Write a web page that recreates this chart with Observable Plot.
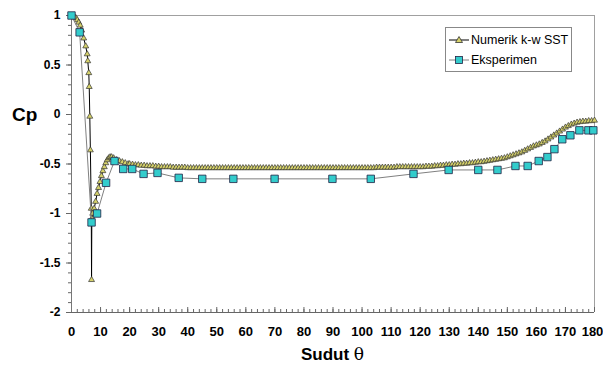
<!DOCTYPE html>
<html>
<head>
<meta charset="utf-8">
<script src="https://cdn.jsdelivr.net/npm/d3@7"></script>
<script src="https://cdn.jsdelivr.net/npm/@observablehq/plot@0.6"></script>
<style>
  html, body { margin: 0; padding: 0; background: #fff; }
  #wrap { position: relative; width: 603px; height: 369px; font-family: "Liberation Sans", Arial, sans-serif; }
  #cp { position: absolute; left: 12px; top: 104px; font-weight: bold; font-size: 19px; }
  #xlab { position: absolute; left: 0; width: 665px; text-align: center; top: 344px; font-weight: bold; font-size: 17px; }
  #legend { position: absolute; left: 445px; top: 27px; width: 125px; height: 43px; border: 1px solid #888; background: #fff; font-size: 12.5px; }
  .item { position: absolute; left: 3px; height: 18px; display: flex; align-items: center; white-space: nowrap; }
  .item svg { margin-right: 2px; }
</style>
</head>
<body>
<div id="wrap">
  <div id="chart"></div>
  <div id="cp">Cp</div>
  <div id="xlab">Sudut <span style="font-family:'DejaVu Serif',serif;font-weight:normal">θ</span></div>
  <div id="legend">
    <div class="item" style="top:3px"><svg width="20" height="10"><line x1="0" y1="5" x2="20" y2="5" stroke="#000" stroke-width="1"/><path d="M10,1.5 L13.5,7.5 L6.5,7.5 Z" fill="#d6d26a" stroke="#333" stroke-width="0.8"/></svg><span>Numerik k-w SST</span></div>
    <div class="item" style="top:23px"><svg width="20" height="10"><line x1="0" y1="5" x2="20" y2="5" stroke="#808080" stroke-width="1"/><rect x="6.5" y="1.5" width="7" height="7" fill="#33cccc" stroke="#224" stroke-width="0.8"/></svg><span>Eksperimen</span></div>
  </div>
</div>
<script>
// Experimental data (squares)
const expX = [0, 2.8, 6.9, 8.8, 11.9, 14.8, 17.8, 20.9, 24.8, 29.6, 36.9, 45, 55.7, 69.9, 89.8, 103, 117.7, 129.8, 140, 146.6, 152.8, 157, 160.8, 163.8, 166.2, 168.9, 171.7, 174.8, 177.9, 179.6];
const expY = [1, 0.83, -1.09, -1.0, -0.69, -0.47, -0.55, -0.55, -0.60, -0.59, -0.64, -0.65, -0.65, -0.65, -0.65, -0.65, -0.60, -0.56, -0.56, -0.56, -0.52, -0.52, -0.47, -0.43, -0.35, -0.25, -0.21, -0.16, -0.16, -0.16];

// Numerical k-w SST data (triangles)
const numX = [0, 0.5, 1, 1.5, 2, 2.5, 3, 3.5, 4.2, 4.9, 5.4, 5.6, 5.95, 6.1, 6.3, 6.5, 6.8, 6.9, 7.0, 7.3, 7.8, 8.3, 8.8, 9.3, 9.8, 10.3, 10.8, 11.3, 11.8, 12.3, 12.8, 13.3, 13.8, 14.5, 15.5, 16.5, 17.5, 18.5, 19.5,
  20, 21, 22, 23, 24, 25, 26, 27, 28, 29,
  30, 31, 32, 33, 34, 35, 36, 37, 38, 39,
  40, 41, 42, 43, 44, 45, 46, 47, 48, 49,
  50, 51, 52, 53, 54, 55, 56, 57, 58, 59,
  60, 61, 62, 63, 64, 65, 66, 67, 68, 69,
  70, 71, 72, 73, 74, 75, 76, 77, 78, 79,
  80, 81, 82, 83, 84, 85, 86, 87, 88, 89,
  90, 91, 92, 93, 94, 95, 96, 97, 98, 99,
  100, 101, 102, 103, 104, 105, 106, 107, 108, 109,
  110, 111, 112, 113, 114, 115, 116, 117, 118, 119,
  120, 121, 122, 123, 124, 125, 126, 127, 128, 129,
  130, 131, 132, 133, 134, 135, 136, 137, 138, 139,
  140, 141, 142, 143, 144, 145, 146, 147, 148, 149,
  150, 151, 152, 153, 154, 155, 156, 157, 158, 159,
  160, 161, 162, 163, 164, 165, 166, 167, 168, 169,
  170, 171, 172, 173, 174, 175, 176, 177, 178, 179, 180];
const numY = [1, 0.995, 0.99, 0.975, 0.955, 0.93, 0.9, 0.85, 0.77, 0.69, 0.61, 0.54, 0.42, 0.28, -0.02, -0.36, -0.95, -1.67, -1.05, -1.0, -0.95, -0.88, -0.8, -0.74, -0.68, -0.62, -0.57, -0.53, -0.49, -0.46, -0.44, -0.43, -0.43, -0.44, -0.46, -0.47, -0.48, -0.49, -0.5,
  -0.50, -0.505, -0.51, -0.51, -0.515, -0.515, -0.52, -0.52, -0.52, -0.525,
  -0.525, -0.53, -0.53, -0.53, -0.53, -0.535, -0.535, -0.535, -0.535, -0.535,
  -0.54, -0.54, -0.54, -0.54, -0.54, -0.54, -0.54, -0.54, -0.54, -0.54,
  -0.54, -0.54, -0.54, -0.54, -0.54, -0.54, -0.54, -0.54, -0.54, -0.54,
  -0.54, -0.54, -0.54, -0.54, -0.54, -0.54, -0.54, -0.54, -0.54, -0.54,
  -0.54, -0.54, -0.54, -0.54, -0.54, -0.54, -0.54, -0.54, -0.54, -0.54,
  -0.54, -0.54, -0.54, -0.54, -0.54, -0.54, -0.54, -0.54, -0.54, -0.54,
  -0.54, -0.54, -0.54, -0.54, -0.54, -0.54, -0.54, -0.54, -0.54, -0.54,
  -0.54, -0.54, -0.54, -0.54, -0.54, -0.535, -0.535, -0.535, -0.535, -0.535,
  -0.535, -0.535, -0.53, -0.53, -0.53, -0.53, -0.53, -0.53, -0.53, -0.53,
  -0.53, -0.53, -0.525, -0.525, -0.525, -0.52, -0.52, -0.515, -0.515, -0.51,
  -0.51, -0.505, -0.505, -0.50, -0.50, -0.495, -0.495, -0.49, -0.49, -0.485,
  -0.48, -0.48, -0.475, -0.47, -0.465, -0.46, -0.455, -0.45, -0.445, -0.44,
  -0.43, -0.42, -0.41, -0.40, -0.39, -0.38, -0.365, -0.35, -0.335, -0.32,
  -0.31, -0.30, -0.285, -0.27, -0.25, -0.23, -0.21, -0.19, -0.17, -0.15,
  -0.13, -0.115, -0.10, -0.09, -0.08, -0.075, -0.07, -0.07, -0.065, -0.065, -0.06];

// Tick values
const xTicks = [0, 10, 20, 30, 40, 50, 60, 70, 80, 90, 100, 110, 120, 130, 140, 150, 160, 170, 180];
const xMinor = d3.range(0, 181, 2);
const yTicks = [1, 0.5, 0, -0.5, -1, -1.5, -2];
const yMinor = d3.range(-20, 11, 1).map(d => d / 10);

const numerik = numX.map((x, i) => ({x, y: numY[i]}));
const eksperimen = expX.map((x, i) => ({x, y: expY[i]}));

const H = 369, mT = 15, mB = 57;
const frameH = H - mT - mB;
const xLast = xTicks[xTicks.length - 1];

const chart = Plot.plot({
  width: 603,
  height: H,
  marginLeft: 71,
  marginRight: 9,
  marginTop: mT,
  marginBottom: mB,
  style: {fontFamily: "'Liberation Sans', Arial, sans-serif", background: "#fff", color: "#000"},
  x: {domain: [0, 180], label: null},
  y: {domain: [-2, 1], label: null},
  marks: [
    Plot.ruleY([1], {stroke: "#a0a0a0"}),
    Plot.ruleX([180], {stroke: "#a0a0a0"}),
    Plot.axisY({ticks: yMinor, tickSize: 3, tickFormat: () => "", stroke: "#666", label: null}),
    Plot.axisY({ticks: yTicks, tickSize: 5, tickPadding: 6, tickFormat: d => String(d), fontSize: 12, fontWeight: "bold", stroke: "#666", label: null}),
    Plot.tickX(xMinor, {x: d => d, insetTop: frameH - 3, stroke: "#666"}),
    Plot.tickX(xTicks, {x: d => d, insetTop: frameH - 5, stroke: "#666"}),
    Plot.axisX({ticks: xTicks.slice(0, -1), tickSize: 0, tickPadding: 14, tickFormat: d => String(d), fontSize: 13, fontWeight: "bold", label: null}),
    Plot.axisX({ticks: [xLast], tickSize: 0, tickPadding: 14, tickFormat: d => String(d), fontSize: 13, fontWeight: "bold", label: null, dx: -2}),
    Plot.ruleX([0], {stroke: "#777"}),
    Plot.ruleY([-2], {stroke: "#666"}),
    Plot.line(numerik, {x: "x", y: "y", stroke: "#000", strokeWidth: 1}),
    Plot.dot(numerik, {x: "x", y: "y", symbol: "triangle", r: 2.2, fill: "#d6d26a", stroke: "#333", strokeWidth: 0.7}),
    Plot.line(eksperimen, {x: "x", y: "y", stroke: "#808080", strokeWidth: 1}),
    Plot.dot(eksperimen, {x: "x", y: "y", symbol: "square", r: 4.2, fill: "#33cccc", stroke: "#224", strokeWidth: 0.8})
  ]
});
document.getElementById("chart").appendChild(chart);
</script>
</body>
</html>
